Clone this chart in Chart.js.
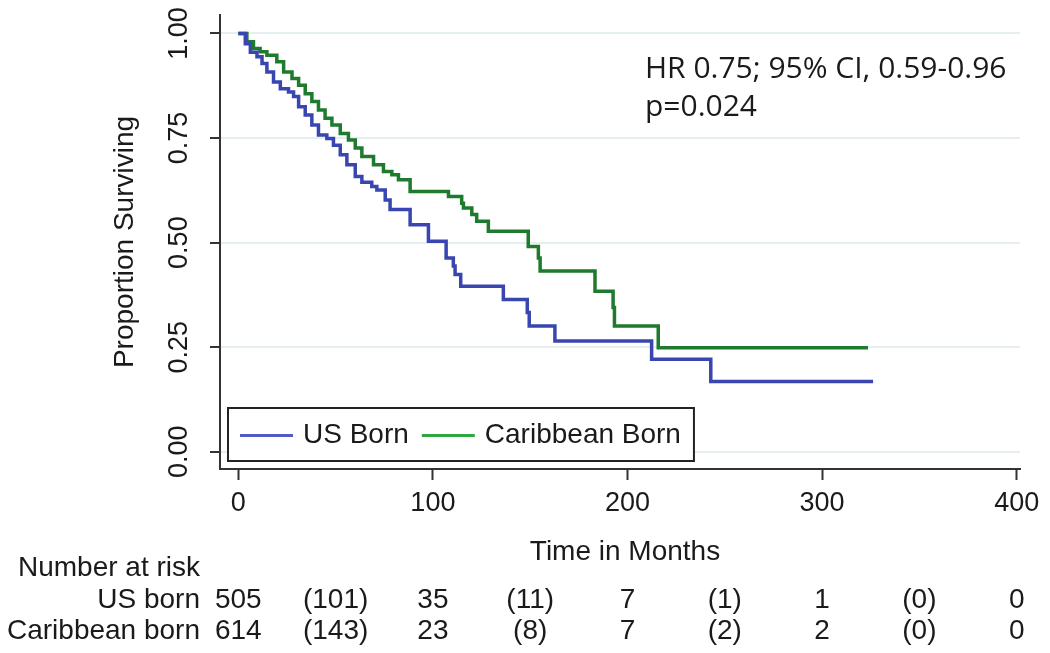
<!DOCTYPE html>
<html>
<head>
<meta charset="utf-8">
<script src="https://cdn.jsdelivr.net/npm/chart.js@4.4.1/dist/chart.umd.min.js"></script>
<style>
  html, body { margin: 0; padding: 0; background: #fff; }
  #wrap { width: 1050px; height: 653px; }
</style>
</head>
<body>
<div id="wrap"><canvas id="kmChart" width="1050" height="653"></canvas></div>
<script>
// Kaplan-Meier steps (month of drop, survival after drop)
const usMonths = [0, 3.6, 6.2, 9.6, 12.2, 14.7, 18.1, 21.6, 25.8, 28.4, 31.0, 34.4, 37.8, 41.2, 45.5, 48.9, 52.4, 55.8, 60.1, 63.5, 68.6, 71.2, 75.5, 78.0, 88.3, 97.7, 106.8, 110.5, 111.4, 114.3, 136.2, 148.5, 149.5, 162.7, 212.4, 242.8, 326.2];
const usSurvival = [1.0, 0.975, 0.955, 0.944, 0.928, 0.908, 0.884, 0.868, 0.860, 0.849, 0.825, 0.805, 0.781, 0.757, 0.749, 0.733, 0.710, 0.686, 0.658, 0.644, 0.634, 0.626, 0.602, 0.579, 0.543, 0.503, 0.463, 0.444, 0.424, 0.396, 0.364, 0.333, 0.301, 0.265, 0.221, 0.168, 0.168];

const caribMonths = [0, 4.4, 7.8, 11.2, 14.7, 19.8, 23.3, 27.6, 31.0, 34.4, 37.8, 41.2, 44.6, 48.1, 52.4, 56.6, 60.1, 63.5, 69.5, 74.6, 78.9, 82.3, 88.3, 108.0, 114.8, 115.7, 120.0, 122.5, 128.5, 149.0, 154.2, 155.1, 183.3, 192.6, 193.3, 215.8, 323.6];
const caribSurvival = [1.0, 0.980, 0.964, 0.956, 0.948, 0.932, 0.908, 0.892, 0.876, 0.856, 0.837, 0.817, 0.797, 0.781, 0.761, 0.745, 0.726, 0.706, 0.686, 0.670, 0.662, 0.650, 0.622, 0.610, 0.594, 0.583, 0.567, 0.551, 0.527, 0.491, 0.463, 0.432, 0.384, 0.345, 0.301, 0.249, 0.249];

const xTickValues = [0, 100, 200, 300, 400];
const yTickValues = [0, 0.25, 0.5, 0.75, 1];

const riskTimes = [0, 50, 100, 150, 200, 250, 300, 350, 400];
const usAtRisk = ['505', '(101)', '35', '(11)', '7', '(1)', '1', '(0)', '0'];
const caribAtRisk = ['614', '(143)', '23', '(8)', '7', '(2)', '2', '(0)', '0'];

const groupLabels = ['US born', 'Caribbean born'];
const legendLabels = ['US Born', 'Caribbean Born'];
const statLines = ['HR 0.75; 95% CI, 0.59-0.96', 'p=0.024'];

const FONT = "'Liberation Sans', Arial, sans-serif";
const INK = '#1a1a1a';

function toPoints(xs, ys) {
    return xs.map((x, i) => ({ x: x, y: ys[i] }));
}

const kmExtras = {
    id: 'kmExtras',
    afterDraw(chart) {
        const ctx = chart.ctx;
        const area = chart.chartArea;
        const xs = chart.scales.x;
        const ys = chart.scales.y;

        ctx.save();
        ctx.fillStyle = INK;

        // y tick labels, turned
        ctx.font = '27px ' + FONT;
        ctx.textAlign = 'center';
        ctx.textBaseline = 'middle';
        yTickValues.forEach(v => {
            ctx.save();
            ctx.translate(area.left - 40, ys.getPixelForValue(v));
            ctx.rotate(-Math.PI / 2);
            ctx.fillText(v.toFixed(2), 0, 0);
            ctx.restore();
        });

        // y title
        ctx.font = '28px ' + FONT;
        ctx.save();
        ctx.translate(area.left - 95, (area.top + area.bottom) / 2);
        ctx.rotate(-Math.PI / 2);
        ctx.fillText('Proportion Surviving', 0, 0);
        ctx.restore();

        // x title
        ctx.fillText('Time in Months', (area.left + area.right) / 2 + 5, 552);

        // number at risk table
        ctx.textAlign = 'right';
        ctx.fillText('Number at risk', area.left - 20, 568);
        ctx.fillText(groupLabels[0], area.left - 20, 600);
        ctx.fillText(groupLabels[1], area.left - 20, 631);
        ctx.textAlign = 'center';
        riskTimes.forEach((t, i) => {
            const px = xs.getPixelForValue(t);
            ctx.fillText(usAtRisk[i], px, 600);
            ctx.fillText(caribAtRisk[i], px, 631);
        });

        // legend box
        const legendColors = ['#4f5cc4', '#2fa843'];
        ctx.font = '28px ' + FONT;
        ctx.textAlign = 'left';
        const lineLen = 53;
        let w = 12;
        const widths = legendLabels.map(l => ctx.measureText(l).width);
        widths.forEach(tw => { w += lineLen + 10 + tw + 13; });
        const bx = area.left + 8;
        const by = 408;
        const bh = 53;
        ctx.fillStyle = '#fff';
        ctx.fillRect(bx, by, w, bh);
        ctx.strokeStyle = '#222';
        ctx.lineWidth = 2;
        ctx.strokeRect(bx, by, w, bh);
        let cx = bx + 12;
        const cy = by + bh / 2 + 1;
        legendLabels.forEach((l, i) => {
            ctx.strokeStyle = legendColors[i];
            ctx.lineWidth = 3;
            ctx.beginPath();
            ctx.moveTo(cx, cy);
            ctx.lineTo(cx + lineLen, cy);
            ctx.stroke();
            ctx.fillStyle = INK;
            ctx.fillText(l, cx + lineLen + 10, cy);
            cx += lineLen + 10 + widths[i] + 13;
        });

        // hazard ratio note
        ctx.font = "30px 'Open Sans', 'Noto Sans', sans-serif";
        ctx.fillStyle = INK;
        ctx.fillText(statLines[0], 645, 69);
        ctx.fillText(statLines[1], 645, 107);

        ctx.restore();
    }
};

const kmChart = new Chart(document.getElementById('kmChart'), {
    type: 'line',
    data: {
        datasets: [{
            label: legendLabels[0],
            data: toPoints(usMonths, usSurvival),
            borderColor: '#3a46b0',
            borderWidth: 3.5,
            stepped: true,
            pointRadius: 0,
            fill: false
        }, {
            label: legendLabels[1],
            data: toPoints(caribMonths, caribSurvival),
            borderColor: '#1e7b2e',
            borderWidth: 3.5,
            stepped: true,
            pointRadius: 0,
            fill: false
        }]
    },
    options: {
        responsive: false,
        animation: false,
        layout: { padding: { left: 0, right: 30, top: 15, bottom: 0 } },
        plugins: {
            legend: { display: false },
            tooltip: { enabled: false }
        },
        scales: {
            x: {
                type: 'linear',
                min: -9.4,
                max: 401.7,
                afterBuildTicks: s => { s.ticks = xTickValues.map(v => ({ value: v })); },
                afterFit: s => { s.height = 184; },
                ticks: {
                    font: { size: 27, family: FONT },
                    color: INK,
                    padding: 7,
                    maxRotation: 0
                },
                grid: {
                    drawOnChartArea: false,
                    drawTicks: true,
                    tickLength: 11,
                    tickColor: '#333',
                    tickWidth: 2
                },
                border: { color: '#333', width: 2 }
            },
            y: {
                type: 'linear',
                min: -0.041,
                max: 1.044,
                afterBuildTicks: s => { s.ticks = yTickValues.map(v => ({ value: v })); },
                afterFit: s => { s.width = 220; },
                ticks: { display: false },
                grid: {
                    color: '#e5f0ee',
                    lineWidth: 2,
                    drawTicks: true,
                    tickLength: 10,
                    tickColor: '#333',
                    tickWidth: 2
                },
                border: { color: '#333', width: 2 }
            }
        }
    },
    plugins: [kmExtras]
});
</script>
</body>
</html>
